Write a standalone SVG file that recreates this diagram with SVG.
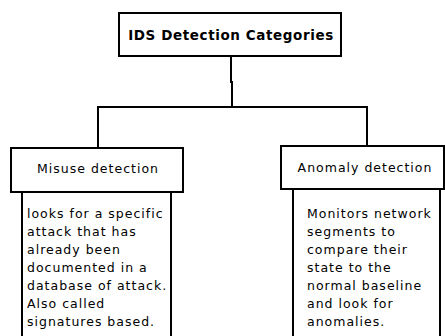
<svg xmlns="http://www.w3.org/2000/svg" width="445" height="336" viewBox="0 0 445 336">
<style>
.box{fill:#fff;stroke:#000;stroke-width:2}
.ln{fill:none;stroke:#000;stroke-width:2}
.t{font-family:"DejaVu Sans",sans-serif;font-size:12.5px;letter-spacing:1px;fill:#000}
.b{font-weight:bold;font-size:13.5px;letter-spacing:0.6px}
</style>
<rect width="445" height="336" fill="#fff"/>
<g id="connectors">
<polyline class="ln" points="231,56 231,82 232,82 232,107"/>
<line class="ln" x1="97" y1="107" x2="368" y2="107"/>
<line class="ln" x1="98" y1="106" x2="98" y2="148"/>
<line class="ln" x1="367" y1="106" x2="367" y2="146"/>
</g>
<g id="root">
<rect class="box" x="119" y="13" width="222" height="43"/>
<text class="t b" x="231" y="40" text-anchor="middle">IDS Detection Categories</text>
</g>
<g id="misuse">
<rect class="box" x="11" y="148" width="172" height="44"/>
<text class="t" x="98" y="173" text-anchor="middle">Misuse detection</text>
</g>
<g id="misuse-desc">
<polyline class="ln" points="22,337 22,192 171,192 171,337"/>
<text class="t" x="27" y="217.5">looks for a specific</text>
<text class="t" x="27" y="235.5">attack that has</text>
<text class="t" x="27" y="253.5">already been</text>
<text class="t" x="27" y="271.5">documented in a</text>
<text class="t" x="27" y="289.5">database of attack.</text>
<text class="t" x="27" y="307.5">Also called</text>
<text class="t" x="27" y="325.5">signatures based.</text>
</g>
<g id="anomaly">
<rect class="box" x="281" y="146" width="163" height="43"/>
<text class="t" x="365" y="172" text-anchor="middle">Anomaly detection</text>
</g>
<g id="anomaly-desc">
<polyline class="ln" points="293,337 293,189 440,189 440,337"/>
<text class="t" x="307" y="217.5">Monitors network</text>
<text class="t" x="307" y="235.5">segments to</text>
<text class="t" x="307" y="253.5">compare their</text>
<text class="t" x="307" y="271.5">state to the</text>
<text class="t" x="307" y="289.5">normal baseline</text>
<text class="t" x="307" y="307.5">and look for</text>
<text class="t" x="307" y="325.5">anomalies.</text>
</g>
</svg>
